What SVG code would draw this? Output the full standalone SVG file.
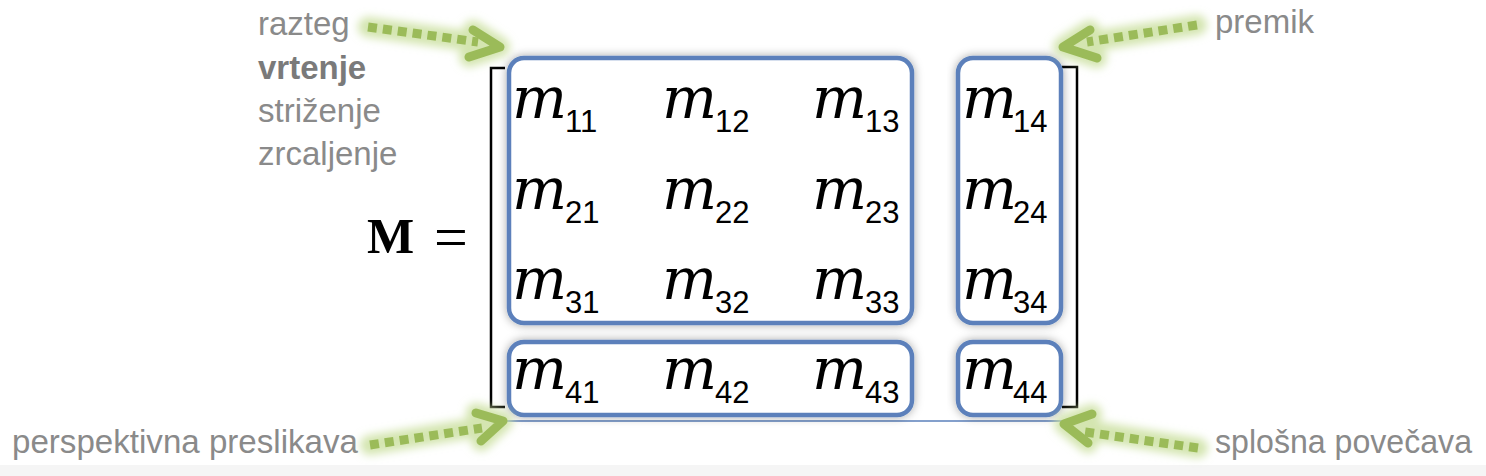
<svg xmlns="http://www.w3.org/2000/svg" width="1486" height="476" viewBox="0 0 1486 476">
<style>
.lbl{font-family:"Liberation Sans",Arial,sans-serif;font-size:33px;fill:#8a8a8a}
.bold{font-weight:bold;fill:#7a7a7a}
.m{font-family:"DejaVu Serif",serif;font-style:italic;font-size:58px;fill:#000}
.s{font-family:"Liberation Sans",Arial,sans-serif;font-size:31px;fill:#000}
.box{fill:#fff;stroke:#5b80bb;stroke-width:4.5}
.br{fill:none;stroke:#000;stroke-width:2.5}
.glow{fill:none;stroke:#c9df9c;stroke-width:20;stroke-linecap:round;stroke-linejoin:round;opacity:0.8}
.dash{fill:none;stroke:#9bbb59;stroke-width:9;stroke-dasharray:9 6}
.head{fill:none;stroke:#9bbb59;stroke-width:9;stroke-linecap:round;stroke-linejoin:round}
</style>
<defs>
<filter id="sh" x="-10%" y="-20%" width="120%" height="140%">
<feDropShadow dx="0" dy="0" stdDeviation="5" flood-color="#000" flood-opacity="0.35"/>
</filter>
<filter id="gl" x="-20%" y="-50%" width="140%" height="200%">
<feGaussianBlur stdDeviation="4"/>
</filter>
</defs>
<rect x="0" y="0" width="1486" height="476" fill="#fff"/>
<rect x="0" y="465" width="1486" height="11" fill="#f5f5f5"/>

<g id="labels">
<text class="lbl" x="258" y="35">razteg</text>
<text class="lbl bold" x="258" y="79">vrtenje</text>
<text class="lbl" x="258" y="122">striženje</text>
<text class="lbl" x="258" y="165">zrcaljenje</text>
<text class="lbl" x="1215" y="33">premik</text>
<text class="lbl" x="12" y="453" textLength="346" lengthAdjust="spacingAndGlyphs">perspektivna preslikava</text>
<text class="lbl" x="1215" y="453" textLength="257" lengthAdjust="spacingAndGlyphs">splošna povečava</text>
</g>

<g id="M-eq">
<text x="367" y="253" font-family="Liberation Serif,serif" font-weight="bold" font-size="50">M</text>
<text x="434" y="257" font-family="Liberation Serif,serif" font-size="60">=</text>
</g>

<g id="brackets">
<path class="br" d="M505,68 H491 V407 H505"/>
<path class="br" d="M1062,67 H1077 V407 H1062"/>
</g>

<line x1="500" y1="421" x2="1062" y2="421" stroke="#5b80bb" stroke-width="1.5"/>

<g id="box-3x3"><rect class="box" filter="url(#sh)" x="509" y="58" width="403" height="265" rx="15"/></g>
<g id="box-col4"><rect class="box" filter="url(#sh)" x="958" y="58" width="103" height="265" rx="15"/></g>
<g id="box-row4"><rect class="box" filter="url(#sh)" x="509" y="342" width="403" height="73" rx="15"/></g>
<g id="box-m44"><rect class="box" filter="url(#sh)" x="958" y="342" width="103" height="73" rx="15"/></g>

<g id="entries">
<text class="m" x="512" y="118">m</text><text class="s" x="565" y="132">11</text>
<text class="m" x="662" y="118">m</text><text class="s" x="715" y="132">12</text>
<text class="m" x="812" y="118">m</text><text class="s" x="865" y="132">13</text>
<text class="m" x="962" y="118">m</text><text class="s" x="1013" y="132">14</text>
<text class="m" x="512" y="209">m</text><text class="s" x="565" y="223">21</text>
<text class="m" x="662" y="209">m</text><text class="s" x="715" y="223">22</text>
<text class="m" x="812" y="209">m</text><text class="s" x="865" y="223">23</text>
<text class="m" x="962" y="209">m</text><text class="s" x="1013" y="223">24</text>
<text class="m" x="512" y="299">m</text><text class="s" x="565" y="313">31</text>
<text class="m" x="662" y="299">m</text><text class="s" x="715" y="313">32</text>
<text class="m" x="812" y="299">m</text><text class="s" x="865" y="313">33</text>
<text class="m" x="962" y="299">m</text><text class="s" x="1013" y="313">34</text>
<text class="m" x="512" y="389">m</text><text class="s" x="565" y="403">41</text>
<text class="m" x="662" y="389">m</text><text class="s" x="715" y="403">42</text>
<text class="m" x="812" y="389">m</text><text class="s" x="865" y="403">43</text>
<text class="m" x="962" y="389">m</text><text class="s" x="1013" y="403">44</text>
</g>

<g id="connectors">
<g filter="url(#gl)">
<path class="glow" d="M368,27 L490,44 M473,30 L500,47 L469,57"/>
<path class="glow" d="M1197,25 L1075,44 M1090,30 L1063,47 L1097,58"/>
<path class="glow" d="M370,445 L490,425 M476,413 L503,421 L481,441"/>
<path class="glow" d="M1198,448 L1076,428 M1092,414 L1064,424 L1088,443"/>
</g>
<path class="dash" d="M368,27 L478,42"/>
<path class="head" d="M473,30 L500,47 L469,57"/>
<path class="dash" d="M1197,25 L1087,42"/>
<path class="head" d="M1090,30 L1063,47 L1097,58"/>
<path class="dash" d="M370,445 L482,428"/>
<path class="head" d="M476,413 L503,421 L481,441"/>
<path class="dash" d="M1198,448 L1085,432"/>
<path class="head" d="M1092,414 L1064,424 L1088,443"/>
</g>
</svg>
